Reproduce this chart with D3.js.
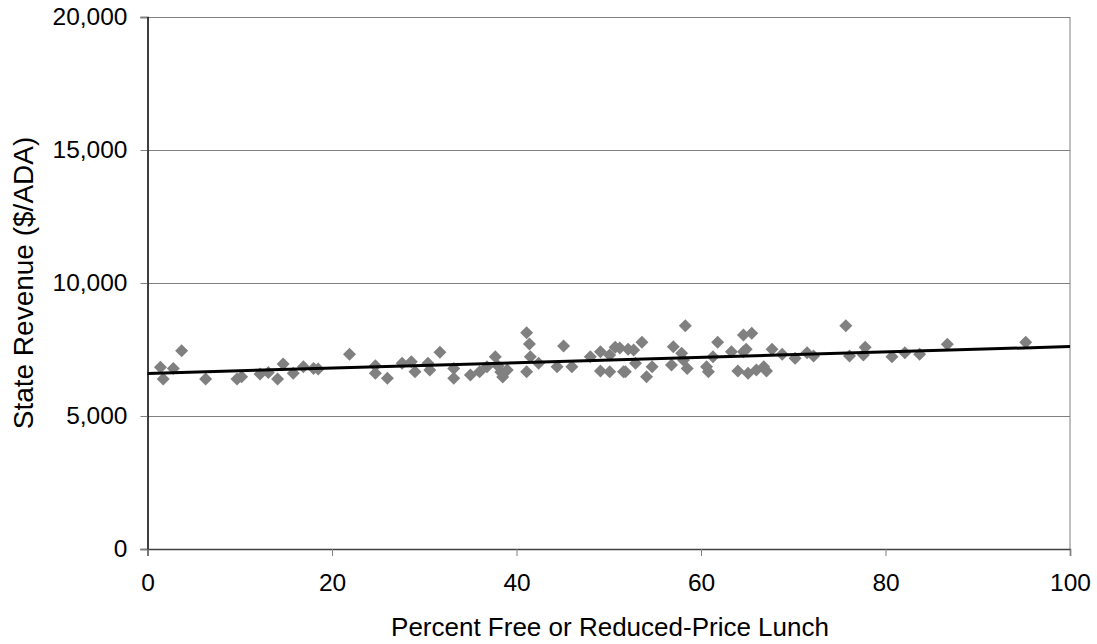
<!DOCTYPE html>
<html>
<head>
<meta charset="utf-8">
<script src="https://cdn.jsdelivr.net/npm/d3@7"></script>
<style>
  body { margin: 0; background: #fff; }
  text { font-family: "Liberation Sans", Arial, sans-serif; }
</style>
</head>
<body>
<div id="chart"></div>
<script>
// percent free/reduced lunch for each district
const lunchPct = [1.4, 1.7, 2.8, 3.7, 6.3, 9.7, 10.2, 12.2, 13.1, 14.1, 14.7, 15.8, 16.9, 18.0, 18.5,
  21.9, 24.7, 24.7, 26.0, 27.6, 28.6, 29.0, 30.4, 30.6, 31.7, 33.2, 33.2, 35.0, 36.0, 36.8, 37.7,
  38.0, 38.3, 38.5, 39.0, 41.1, 41.4, 41.5, 41.1, 42.4, 44.4, 45.1, 46.0, 48.0, 49.1, 49.1, 50.1,
  50.1, 50.7, 51.6, 51.2, 52.1, 52.7, 53.6, 51.8, 52.9, 54.1, 54.7, 57.0, 56.8, 57.9, 58.1, 58.5,
  58.3, 60.6, 60.8, 61.3, 61.8, 63.3, 64.0, 64.6, 65.5, 64.6, 64.9, 65.1, 66.0, 66.8, 67.1, 67.7,
  68.8, 70.2, 71.5, 72.2, 75.7, 76.1, 77.6, 77.8, 80.7, 82.1, 83.7, 86.7, 95.2];
// state revenue, $ per ADA
const stateRev = [6830, 6390, 6790, 7455, 6390, 6390, 6480, 6580, 6640, 6390, 6955, 6605, 6850, 6790, 6770,
  7320, 6890, 6605, 6420, 6980, 7040, 6665, 6980, 6730, 7395, 6790, 6420, 6540, 6665, 6850, 7230,
  6880, 6650, 6470, 6730, 8130, 7705, 7230, 6665, 6980, 6850, 7630, 6850, 7230, 7415, 6690, 7295,
  6665, 7580, 6665, 7555, 7505, 7480, 7770, 6665, 6980, 6480, 6850, 7605, 6915, 7355, 7105, 6790,
  8395, 6850, 6665, 7230, 7770, 7415, 6690, 8045, 8110, 7415, 7505, 6605, 6730, 6850, 6690, 7505,
  7320, 7170, 7380, 7255, 8395, 7255, 7295, 7580, 7230, 7380, 7320, 7695, 7770];

// linear trend line end points
const trendX = [0, 100];
const trendY = [6600, 7610];

const xTicks = [0, 20, 40, 60, 80, 100];
const yTicks = [0, 5000, 10000, 15000, 20000];

const width = 1097, height = 644;
const margin = {left: 147.5, right: 27, top: 17, bottom: 95};
const iw = width - margin.left - margin.right;
const ih = height - margin.top - margin.bottom;
const tickFont = "24.5px";

const svg = d3.select("#chart")
  .append("svg")
  .attr("width", width)
  .attr("height", height);

const g = svg.append("g")
  .attr("transform", `translate(${margin.left},${margin.top})`);

const x = d3.scaleLinear().domain([0, 100]).range([0, iw]);
const y = d3.scaleLinear().domain([0, 20000]).range([ih, 0]);

// gridlines
g.selectAll(".grid")
  .data(yTicks.filter(d => d > 0))
  .enter()
  .append("line")
  .attr("x1", 0)
  .attr("x2", iw)
  .attr("y1", d => Math.round(y(d)) + 0.5)
  .attr("y2", d => Math.round(y(d)) + 0.5)
  .style("stroke", "#808080")
  .style("stroke-width", 1);

// right border
g.append("line")
  .attr("x1", iw).attr("x2", iw)
  .attr("y1", 0).attr("y2", ih)
  .style("stroke", "#808080");

const fmt = d3.format(",");

const yAxis = g.append("g")
  .call(d3.axisLeft(y).tickValues(yTicks).tickFormat(fmt).tickSize(7).tickPadding(13));
yAxis.select(".domain").style("stroke", "#000").style("stroke-width", 1.5);
yAxis.selectAll(".tick line").style("stroke", "#808080");
yAxis.selectAll("text").style("font-size", tickFont).style("fill", "#000")
  .style("font-family", "'Liberation Sans', Arial, sans-serif");

const xAxis = g.append("g")
  .attr("transform", `translate(0,${ih})`)
  .call(d3.axisBottom(x).tickValues(xTicks).tickSize(7).tickPadding(18));
xAxis.select(".domain").style("stroke", "#404040").style("stroke-width", 1.5);
xAxis.selectAll(".tick line").style("stroke", "#808080");
xAxis.selectAll("text").style("font-size", tickFont).style("fill", "#000")
  .style("font-family", "'Liberation Sans', Arial, sans-serif");

// points as diamonds
const pts = lunchPct.map((v, i) => ({x: v, y: stateRev[i]}));
const r = 6.5;
g.selectAll(".dot")
  .data(pts)
  .enter()
  .append("path")
  .attr("class", "dot")
  .attr("d", d => {
    const cx = x(d.x), cy = y(d.y);
    return `M${cx},${cy - r}L${cx + r},${cy}L${cx},${cy + r}L${cx - r},${cy}Z`;
  })
  .style("fill", "#808080");

// trend line
g.append("line")
  .attr("x1", x(trendX[0])).attr("y1", y(trendY[0]))
  .attr("x2", x(trendX[1])).attr("y2", y(trendY[1]))
  .style("stroke", "#000")
  .style("stroke-width", 3);

// axis titles
svg.append("text")
  .attr("x", 610)
  .attr("y", 636)
  .style("text-anchor", "middle")
  .style("font-size", "26px")
  .text("Percent Free or Reduced-Price Lunch");

svg.append("text")
  .attr("transform", `translate(33,${margin.top + ih / 2}) rotate(-90)`)
  .style("text-anchor", "middle")
  .style("font-size", "28px")
  .text("State Revenue ($/ADA)");
</script>
</body>
</html>
